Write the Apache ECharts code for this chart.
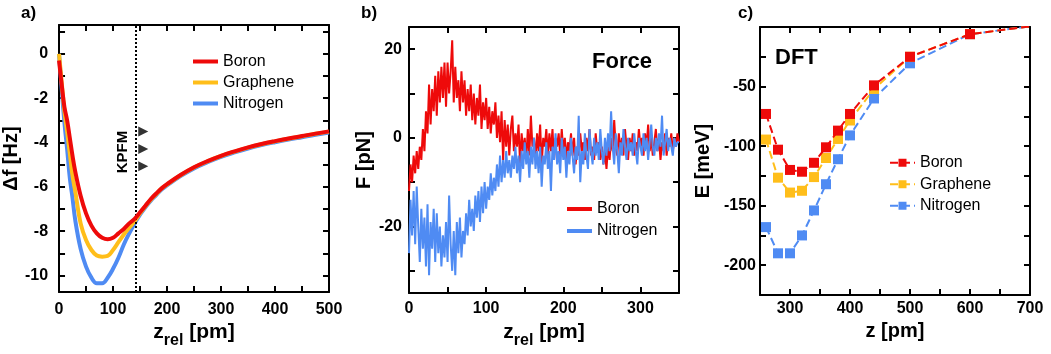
<!DOCTYPE html>
<html><head><meta charset="utf-8">
<script src="https://cdn.jsdelivr.net/npm/echarts@6/dist/echarts.min.js"></script>
<style>html,body{margin:0;padding:0;background:#fff}#c{width:1051px;height:354px}</style>
</head><body><div id="c"></div>
<script>
const FONT = "'Liberation Sans', Arial, Helvetica, sans-serif";
const RED = '#EE0a0a', YEL = '#FFBE1A', BLUE = '#4F8BF3';

// ---------- Panel a : frequency shift ----------
const dfZ = [0,5,10,15,20,25,30,40,50,60,70,80,90,100,110,120,130,140,150,160,170,180,190,200,225,250,275,300,325,350,375,400,425,450,475,500];
const dfBoron = [-0.3,-1.4,-2.4,-3.0,-3.8,-4.6,-5.3,-6.4,-7.2,-7.75,-8.1,-8.3,-8.37,-8.3,-8.1,-7.9,-7.65,-7.45,-7.15,-6.85,-6.55,-6.3,-6.07,-5.88,-5.47,-5.12,-4.84,-4.6,-4.4,-4.22,-4.07,-3.94,-3.82,-3.71,-3.6,-3.5];
const dfGraphene = [0,-1.3,-2.6,-3.5,-4.5,-5.5,-6.2,-7.65,-8.4,-8.85,-9.1,-9.15,-9.12,-8.85,-8.5,-8.15,-7.85,-7.55,-7.2,-6.88,-6.58,-6.33,-6.08,-5.9,-5.48,-5.13,-4.85,-4.61,-4.41,-4.23,-4.08,-3.95,-3.83,-3.72,-3.61,-3.51];
const dfNitrogen = [0,-1.6,-3.1,-4.3,-5.6,-6.5,-7.5,-8.8,-9.6,-10.1,-10.35,-10.35,-10.1,-9.7,-9.2,-8.6,-8.1,-7.65,-7.25,-6.92,-6.62,-6.37,-6.12,-5.94,-5.52,-5.17,-4.89,-4.65,-4.45,-4.27,-4.12,-3.99,-3.87,-3.76,-3.65,-3.55];
const dfXTicks = [0,50,100,150,200,250,300,350,400,450,500];
const dfXLabels = [0,100,200,300,400,500];
const dfYTicks = [-10,-9,-8,-7,-6,-5,-4,-3,-2,-1,0,1];
const dfYLabels = [-10,-8,-6,-4,-2,0];
const kpfmZ = 143;
const kpfmMarkZ = [156,156,156];
const kpfmMarkDf = [-3.5,-4.29,-5.07];

// ---------- Panel b : force ----------
const forceStep = 2;
const forceBoron = [-12,-6,-10,-4,-8,-3,-7,-2,-5,2,-3,6,1,12,3,11,6,14,5,15,8,16,9,17,7,17,10,15,22,8,16,9,13,6,15,8,13,5,11,6,12,4,10,3,9,5,12,2,8,4,9,2,7,1,6,3,8,0,5,-1,6,-5,4,-2,3,-4,2,5,-3,1,-2,3,-6,1,-3,0,-5,2,-4,5,-2,0,-5,1,-3,3,-6,0,-2,2,-4,1,-3,2,-5,0,-2,1,-4,2,-3,0,-5,-1,-3,1,-4,0,-6,-2,-4,1,-3,-1,-5,0,-3,2,-4,-2,-5,1,-3,-1,-5,-2,-6,-3,-7,-2,-5,0,-3,4,-2,-4,1,-3,0,-4,2,-2,-5,0,-3,1,-4,-1,-3,2,-2,0,-4,1,-2,3,-3,0,-4,-1,2,-3,0,-5,-1,-3,1,-4,0,-2,1,-3,0,-2,1,-1];
const forceNitrogen = [-26,-14,-22,-12,-24,-11,-20,-28,-16,-25,-18,-29,-15,-31,-19,-25,-16,-28,-17,-26,-20,-29,-22,-27,-19,-28,-13,-24,-30,-21,-31,-19,-26,-18,-27,-21,-24,-17,-22,-14,-20,-16,-21,-13,-18,-12,-19,-11,-17,-10,-16,-11,-14,-8,-13,-9,-12,-6,-11,-4,-10,-5,-9,-3,-8,-5,-9,-4,-7,-2,-8,-4,-10,-3,-7,-1,-6,-3,-9,-2,-6,0,-7,-3,-8,-2,-11,-4,-6,-1,-7,-3,-12,-2,-5,1,-6,-3,-8,0,-5,-2,-9,-3,-6,0,-4,-8,-2,-5,5,-10,-3,-6,1,-4,-7,2,-3,-6,0,-4,-1,-5,2,-3,-6,0,-4,1,-3,6,-2,-6,1,-3,-8,-1,-4,2,-2,-5,0,-3,-1,-4,1,-3,-6,0,-2,-4,1,-3,0,-5,-1,3,-2,-4,0,-3,1,-2,5,-4,-1,2,-3,0,-2,-4,0,-2,-1,-1];
const fXTicks = [0,50,100,150,200,250,300,350];
const fXLabels = [0,100,200,300];
const fYTicks = [-30,-20,-10,0,10,20];
const fYLabels = [-20,0,20];

// ---------- Panel c : DFT ----------
const dftZ = [260,280,300,320,340,360,380,400,440,500,600,700];
const eBoron = [-73,-103,-120,-121.5,-114,-101,-87,-73,-49,-25,-6,0.5];
const eGraphene = [-94.5,-126.5,-139,-137.5,-126,-110,-94,-78.5,-52,-25,-6,0.5];
const eNitrogen = [-168,-190,-190,-175,-154,-132,-111,-91,-60,-30.5,-6,0.5];
const eXTicks = [300,350,400,450,500,550,600,650,700];
const eXLabels = [300,400,500,600,700];
const eYTicks = [-200,-175,-150,-125,-100,-75,-50,-25];
const eYLabels = [-200,-150,-100,-50];

const zip = (xs, ys) => xs.map((x, i) => [x, ys[i]]);
const stepZip = (ys, step) => ys.map((y, i) => [i * step, y]);

const axLine = () => ({ show: true, onZero: false, lineStyle: { color: '#000', width: 2 } });
const tickStyle = (custom) => ({ show: true, inside: true, length: 6, customValues: custom.slice(), lineStyle: { color: '#000', width: 2 } });
const labelStyle = (m, custom) => ({ show: true, margin: m, customValues: custom.slice(), color: '#000', fontSize: 16, fontWeight: 'bold', fontFamily: FONT });
function xPair(g, min, max, ticks, labels, name, gap, margin) {
  return [
    { type: 'value', gridIndex: g, position: 'bottom', min, max, axisLine: axLine(),
      axisTick: tickStyle(ticks), axisLabel: labelStyle(margin, labels), splitLine: { show: false },
      name, nameLocation: 'middle', nameGap: gap,
      nameTextStyle: { color: '#000', fontSize: 20, fontWeight: 'bold', fontFamily: FONT,
        rich: { z: { fontSize: 21, fontWeight: 'bold', fontFamily: FONT, color: '#000', verticalAlign: 'bottom', padding: [0, 0, 6, 0] },
                s: { fontSize: 16, fontWeight: 'bold', fontFamily: FONT, color: '#000', verticalAlign: 'bottom' } } } },
    { type: 'value', gridIndex: g, position: 'top', min, max, axisLine: axLine(),
      axisTick: tickStyle(ticks), axisLabel: { show: false }, splitLine: { show: false } }
  ];
}
function yPair(g, min, max, ticks, labels, name, gap, margin) {
  return [
    { type: 'value', gridIndex: g, position: 'left', min, max, axisLine: axLine(),
      axisTick: tickStyle(ticks), axisLabel: labelStyle(margin, labels), splitLine: { show: false },
      name, nameLocation: 'middle', nameGap: gap, nameRotate: 90,
      nameTextStyle: { color: '#000', fontSize: 20, fontWeight: 'bold', fontFamily: FONT } },
    { type: 'value', gridIndex: g, position: 'right', min, max, axisLine: axLine(),
      axisTick: tickStyle(ticks), axisLabel: { show: false }, splitLine: { show: false } }
  ];
}

const zrelName = '{z|z}{s|rel}{z| [pm]}';
const lineSeries = (name, data, color, xi, width, extra) => Object.assign({
  type: 'line', name, data, xAxisIndex: xi, yAxisIndex: xi, showSymbol: false, symbol: 'none',
  lineStyle: { color, width }, itemStyle: { color }, clip: true, z: 3
}, extra || {});

const legendText = { color: '#000', fontSize: 16, fontFamily: FONT };
const option = {
  animation: false,
  backgroundColor: '#fff',
  grid: [
    { left: 58, top: 25, width: 271, height: 268 },
    { left: 409, top: 27, width: 270, height: 270 },
    { left: 760, top: 27, width: 270, height: 268 }
  ],
  xAxis: [
    ...xPair(0, 0, 500, dfXTicks, dfXLabels, zrelName, 26, 9),
    ...xPair(1, 0, 350, fXTicks, fXLabels, zrelName, 29, 8),
    ...xPair(2, 250, 700, eXTicks, eXLabels, 'z [pm]', 22, 6)
  ],
  yAxis: [
    ...yPair(0, -10.75, 1.3, dfYTicks, dfYLabels, 'Δf [Hz]', 22, 11),
    ...yPair(1, -35, 25, fYTicks, fYLabels, 'F [pN]', 28, 7),
    ...yPair(2, -225, 0, eYTicks, eYLabels, 'E [meV]', 47, 4)
  ],
  legend: [
    { orient: 'vertical', left: 188, top: 46, icon: 'rect', itemWidth: 25, itemHeight: 4, itemGap: 0,
      data: ['a-Boron', 'a-Graphene', 'a-Nitrogen'], formatter: n => n.slice(2),
      textStyle: Object.assign({ lineHeight: 21 }, legendText) },
    { orient: 'vertical', left: 562, top: 193, icon: 'rect', itemWidth: 25, itemHeight: 4, itemGap: 0,
      data: ['b-Boron', 'b-Nitrogen'], formatter: n => n.slice(2),
      textStyle: Object.assign({ lineHeight: 22 }, legendText) },
    { orient: 'vertical', left: 884, top: 147, itemWidth: 25, itemHeight: 10, itemGap: 0,
      data: ['c-Boron', 'c-Graphene', 'c-Nitrogen'], formatter: n => n.slice(2),
      textStyle: Object.assign({ lineHeight: 21.5 }, legendText) }
  ],
  series: [
    lineSeries('a-Boron', zip(dfZ, dfBoron), RED, 0, 4, { smooth: 0.4, z: 5,
      markLine: { silent: true, symbol: 'none', label: { show: false },
        lineStyle: { color: '#000', width: 2, type: [2, 2] }, data: [{ xAxis: kpfmZ }] } }),
    lineSeries('a-Graphene', zip(dfZ, dfGraphene), YEL, 0, 4, { smooth: 0.4, z: 4 }),
    lineSeries('a-Nitrogen', zip(dfZ, dfNitrogen), BLUE, 0, 4, { smooth: 0.4, z: 3 }),
    { type: 'scatter', name: 'kpfm', xAxisIndex: 0, yAxisIndex: 0, data: zip(kpfmMarkZ, kpfmMarkDf),
      symbol: 'triangle', symbolRotate: -90, symbolSize: 10, itemStyle: { color: '#000' }, z: 6 },
    lineSeries('b-Boron', stepZip(forceBoron, forceStep), RED, 2, 2, { z: 3 }),
    lineSeries('b-Nitrogen', stepZip(forceNitrogen, forceStep), BLUE, 2, 2, { z: 4 }),
    lineSeries('c-Boron', zip(dftZ, eBoron), RED, 4, 2, { z: 5, showSymbol: true, symbol: 'rect', symbolSize: 10,
      lineStyle: { color: RED, width: 2, type: [8, 4] } }),
    lineSeries('c-Graphene', zip(dftZ, eGraphene), YEL, 4, 2, { z: 4, showSymbol: true, symbol: 'rect', symbolSize: 10,
      lineStyle: { color: YEL, width: 2, type: [8, 4] } }),
    lineSeries('c-Nitrogen', zip(dftZ, eNitrogen), BLUE, 4, 2, { z: 3, showSymbol: true, symbol: 'rect', symbolSize: 10,
      lineStyle: { color: BLUE, width: 2, type: [8, 4] } })
  ],
  graphic: [
    { type: 'text', x: 21, y: 13, style: { text: 'a)', font: 'bold 17px ' + FONT, fill: '#000', verticalAlign: 'middle' } },
    { type: 'text', x: 361, y: 13, style: { text: 'b)', font: 'bold 17px ' + FONT, fill: '#000', verticalAlign: 'middle' } },
    { type: 'text', x: 738, y: 13, style: { text: 'c)', font: 'bold 17px ' + FONT, fill: '#000', verticalAlign: 'middle' } },
    { type: 'text', x: 592, y: 62, style: { text: 'Force', font: 'bold 22px ' + FONT, fill: '#000', verticalAlign: 'middle' } },
    { type: 'text', x: 775, y: 58, style: { text: 'DFT', font: 'bold 22px ' + FONT, fill: '#000', verticalAlign: 'middle' } },
    { type: 'text', x: 123, y: 152, rotation: Math.PI / 2, style: { text: 'KPFM', font: 'bold 15px ' + FONT, fill: '#000', align: 'center', verticalAlign: 'middle' } }
  ]
};
const chart = echarts.init(document.getElementById('c'), null, { renderer: 'canvas' });
chart.setOption(option);
</script></body></html>
